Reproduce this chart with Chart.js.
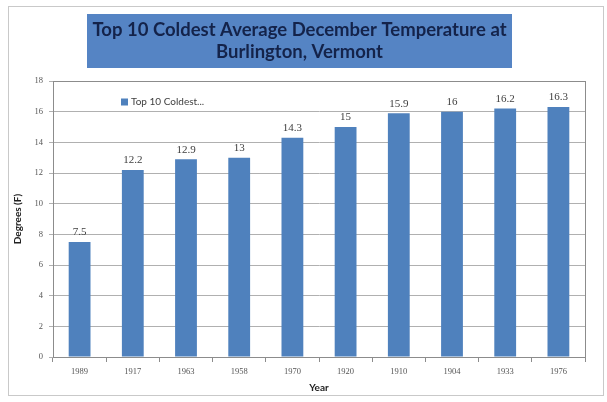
<!DOCTYPE html>
<html>
<head>
<meta charset="utf-8">
<script src="https://cdn.jsdelivr.net/npm/chart.js@4.4.1/dist/chart.umd.min.js"></script>
<style>
  html, body { margin: 0; padding: 0; background: #ffffff; }
  #wrap { position: relative; width: 607px; height: 402px; }
</style>
</head>
<body>
<div id="wrap"><canvas id="c" width="607" height="402"></canvas></div>
<script>
// Burlington, Vermont: ten coldest December average temperatures
const years = ['1989', '1917', '1963', '1958', '1970', '1920', '1910', '1904', '1933', '1976'];
const temps = [7.5, 12.2, 12.9, 13, 14.3, 15, 15.9, 16, 16.2, 16.3];
const seriesName = 'Top 10 Coldest Average December Temperature at Burlington, Vermont';
const legendText = 'Top 10 Coldest...';
const titleLines = ['Top 10 Coldest Average December Temperature at', 'Burlington, Vermont'];
const yTicks = [0, 2, 4, 6, 8, 10, 12, 14, 16, 18];

const BAR = '#4f81bd';

const decor = {
  id: 'decor',
  beforeDraw(chart) {
    const ctx = chart.ctx;
    ctx.save();
    ctx.fillStyle = '#ffffff';
    ctx.fillRect(0, 0, chart.width, chart.height);
    // outer frame
    ctx.strokeStyle = '#c9c9c9';
    ctx.lineWidth = 1;
    ctx.strokeRect(8.5, 6.5, 595, 389);
    // title banner
    ctx.fillStyle = '#5584c4';
    ctx.fillRect(87, 14, 425, 54);
    ctx.fillStyle = '#14234a';
    ctx.font = 'bold 18.5px Lato';
    ctx.textAlign = 'center';
    ctx.textBaseline = 'middle';
    ctx.fillText(titleLines[0], 299.5, 30);
    ctx.fillText(titleLines[1], 299.5, 52);
    ctx.restore();
  },
  afterDraw(chart) {
    const ctx = chart.ctx;
    const a = chart.chartArea;
    ctx.save();
    // plot border
    ctx.strokeStyle = '#8c8c8c';
    ctx.lineWidth = 1;
    ctx.strokeRect(Math.round(a.left) + 0.5, Math.round(a.top) + 0.5,
                   Math.round(a.right - a.left), Math.round(a.bottom - a.top));
    // legend inside plot area
    const lx = a.left + 68, ly = a.top + 21;
    ctx.fillStyle = BAR;
    ctx.fillRect(lx, ly - 3.5, 7, 7);
    ctx.fillStyle = '#404040';
    ctx.font = '10px Lato';
    ctx.textAlign = 'left';
    ctx.textBaseline = 'middle';
    ctx.fillText(legendText, lx + 10, ly);
    // value labels above bars
    const meta = chart.getDatasetMeta(0);
    ctx.fillStyle = '#404040';
    ctx.font = '11px "Liberation Serif"';
    ctx.textAlign = 'center';
    ctx.textBaseline = 'bottom';
    meta.data.forEach((bar, i) => {
      ctx.fillText(String(temps[i]), bar.x, bar.y - 4);
    });
    ctx.restore();
  }
};

new Chart(document.getElementById('c'), {
  type: 'bar',
  data: {
    labels: years,
    datasets: [{
      label: seriesName,
      data: temps,
      backgroundColor: BAR,
      borderWidth: 0,
      categoryPercentage: 1,
      barPercentage: 0.41
    }]
  },
  options: {
    responsive: false,
    animation: false,
    devicePixelRatio: 1,
    layout: { padding: { top: 81, left: 12, right: 22, bottom: 8 } },
    plugins: {
      legend: { display: false },
      title: { display: false },
      tooltip: { enabled: false }
    },
    scales: {
      x: {
        offset: true,
        grid: {
          offset: true,
          drawOnChartArea: false,
          drawTicks: true,
          tickLength: 5,
          color: '#8c8c8c'
        },
        border: { color: '#8c8c8c' },
        ticks: {
          color: '#555555',
          font: { family: 'Liberation Serif', size: 8.5 },
          padding: 5,
          maxRotation: 0
        },
        title: {
          display: true,
          text: 'Year',
          color: '#222222',
          font: { family: 'Lato', size: 10, weight: 'bold' },
          padding: { top: -1, bottom: 0 }
        },
        afterFit(s) { s.height = 37; }
      },
      y: {
        min: 0,
        max: 18,
        afterBuildTicks(s) { s.ticks = yTicks.map(v => ({ value: v })); },
        grid: {
          color: '#b0b0b0',
          drawTicks: true,
          tickLength: 4
        },
        border: { color: '#8c8c8c' },
        ticks: {
          color: '#555555',
          font: { family: 'Liberation Serif', size: 8.5 },
          padding: 6
        },
        title: {
          display: true,
          text: 'Degrees (F)',
          color: '#222222',
          font: { family: 'Lato', size: 10, weight: 'bold' },
          padding: { top: 0, bottom: 0 }
        },
        afterFit(s) { s.width = 41; }
      }
    }
  },
  plugins: [decor]
});
</script>
</body>
</html>
